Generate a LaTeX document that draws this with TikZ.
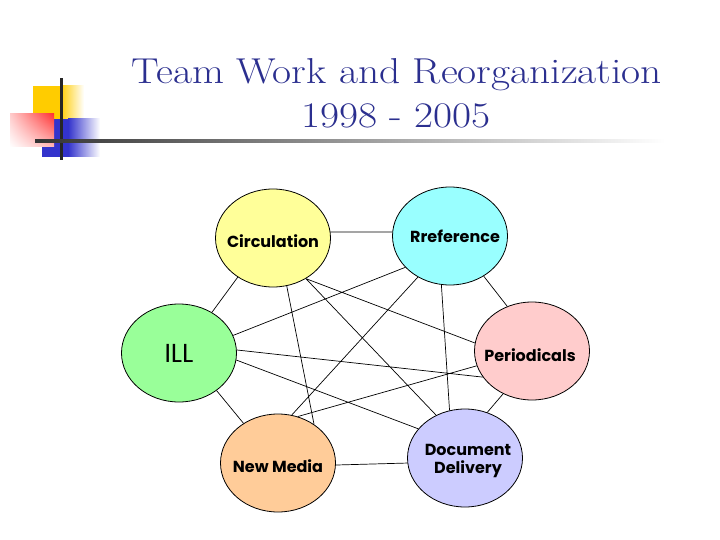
\documentclass[tikz,border=0pt]{standalone}
\usepackage{fontspec}
\usepackage{graphicx}
\usetikzlibrary{shapes.geometric,shadings}
\newfontfamily\labelfont{Poppins}
\definecolor{titleblue}{HTML}{2B2F8F}
\definecolor{decoyellow}{HTML}{FFCC00}
\definecolor{decored}{HTML}{FF3333}
\definecolor{decoblue}{HTML}{3333CC}
\definecolor{circfill}{HTML}{FFFF99}
\definecolor{reffill}{HTML}{99FFFF}
\definecolor{illfill}{HTML}{99FF99}
\definecolor{perfill}{HTML}{FFCCCC}
\definecolor{nmfill}{HTML}{FFCC99}
\definecolor{ddfill}{HTML}{CCCCFF}
\begin{document}
\begin{tikzpicture}[x=1pt,y=-1pt,
team/.style={draw, ellipse, line width=.8pt, minimum width=115pt, minimum height=98pt, inner sep=0pt},
teamtext/.style={align=center, inner sep=0pt, font=\labelfont\bfseries\fontsize{16}{18}\selectfont},
heading/.style={anchor=base, text=titleblue, font=\fontsize{36}{43}\selectfont},
link/.style={line width=.7pt}]
\useasboundingbox[fill=white] (0,0) rectangle (720,540);

\fill[decoyellow] (33,86) rectangle (60,119);
\shade[left color=decoyellow, right color=white] (60,86) rectangle (84,119);
\fill[decoblue] (42,119) rectangle (68,157);
\shade[left color=decoblue, right color=white] (68,119) rectangle (100,157);
\shade[upper right=decored, upper left=decored!25, lower right=decored!35, lower left=white] (10,114) rectangle (54,147);
\fill[black!85] (59.5,78) rectangle (62.5,160);
\shade[left color=black!80, right color=white] (35,139.5) rectangle (665,142.5);

\node (title1) at (397,84) [heading] {\scalebox{1.15}[1]{Team Work and Reorganization}};
\node (title2) at (396,128) [heading] {\scalebox{1.15}[1]{1998 - 2005}};

\node (circ) at (273,238) [team, fill=circfill, label={[teamtext, yshift=-3pt]center:Circulation}] {};
\node (ref) at (450,236) [team, fill=reffill, label={[teamtext, xshift=5pt]center:Rreference}] {};
\node (ill) at (179,353) [team, fill=illfill, label={[teamtext, font=\labelfont\fontsize{26}{30}\selectfont]center:ILL}] {};
\node (per) at (532,351) [team, fill=perfill, label={[teamtext, xshift=-2pt, yshift=-4pt]center:Periodicals}] {};
\node (nm) at (278,463) [team, fill=nmfill, label={[teamtext, yshift=-3pt]center:New Media}] {};
\node (dd) at (465,458) [team, fill=ddfill, label={[teamtext, xshift=3pt, yshift=-3pt]center:Document\\Delivery}] {};

\draw[link]
(circ.6) to (ref.176)
(circ.228) to (ill.51)
(circ.-51) to (per.172)
(circ.-51) to (dd.124)
(circ.-74) to (nm.47)
(ref.215) to (ill.18)
(ref.232) to (nm.74)
(ref.-100) to (dd.108)
(ref.-50) to (per.119)
(ill.3) to (per.208)
(ill.-7) to (dd.148)
(ill.-45) to (nm.131)
(per.195) to (nm.67)
(per.236) to (dd.64)
(nm.-2) to (dd.185);
\end{tikzpicture}
\end{document}
